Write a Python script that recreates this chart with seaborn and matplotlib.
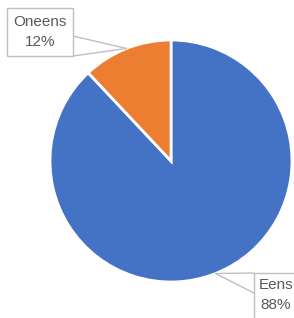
import numpy as np
import matplotlib
matplotlib.use("Agg")
import matplotlib.pyplot as plt
import seaborn as sns

# data
labels = ["Eens", "Oneens"]
shares = [88, 12]
colors = ["#4472C4", "#ED7D31"]

sns.set_style("white")
plt.rcParams["font.family"] = ["Liberation Sans", "DejaVu Sans"]

W, H = 294, 318
cx, cy, R = 171, 161, 121  # pie centre / radius in pixels
fig = plt.figure(figsize=(W / 100, H / 100), dpi=100)
ax = fig.add_axes([(cx - R) / W, (H - cy - R) / H, 2 * R / W, 2 * R / H])

wedges, _ = ax.pie(shares, colors=colors, startangle=90, counterclock=False,
                   radius=1, wedgeprops=dict(edgecolor="white", linewidth=2))
ax.set_xlim(-1, 1)
ax.set_ylim(-1, 1)
ax.set_aspect("equal")
ax.axis("off")


def px(x, y):
    # pixel position -> data coords
    return (x - cx) / R, (cy - y) / R


# label boxes (pixel extents), leader line ends and text centre
boxes = {
    "Oneens": dict(box=(7, 8, 73, 56), ends=[(73, 36), (73, 56)], txt=(40, 32)),
    "Eens": dict(box=(254, 273, 360, 360), ends=[(254, 273), (254, 293)], txt=(276, 295)),
}
line_col = "#BFBFBF"
text_col = "#595959"

for w, lab, val in zip(wedges, labels, shares):
    mid = np.deg2rad((w.theta1 + w.theta2) / 2)
    ax0, ay0 = np.cos(mid), np.sin(mid)
    b = boxes[lab]
    x0, y0, x1, y1 = b["box"]
    for ex, ey in b["ends"]:
        bx, by = px(ex, ey)
        ax.plot([ax0, bx], [ay0, by], color=line_col, lw=1, clip_on=False, zorder=3)
    lx, ly = px(x0, y1)
    rx, ry = px(x1, y0)
    ax.add_patch(plt.Rectangle((lx, ly), rx - lx, ry - ly, facecolor="white",
                               edgecolor=line_col, lw=1, clip_on=False, zorder=4))
    tx, ty = px(*b["txt"])
    ax.text(tx, ty, f"{lab}\n{val}%", ha="center", va="center", fontsize=11,
            color=text_col, linespacing=1.55, zorder=5)

fig.savefig("out.png", dpi=100)
